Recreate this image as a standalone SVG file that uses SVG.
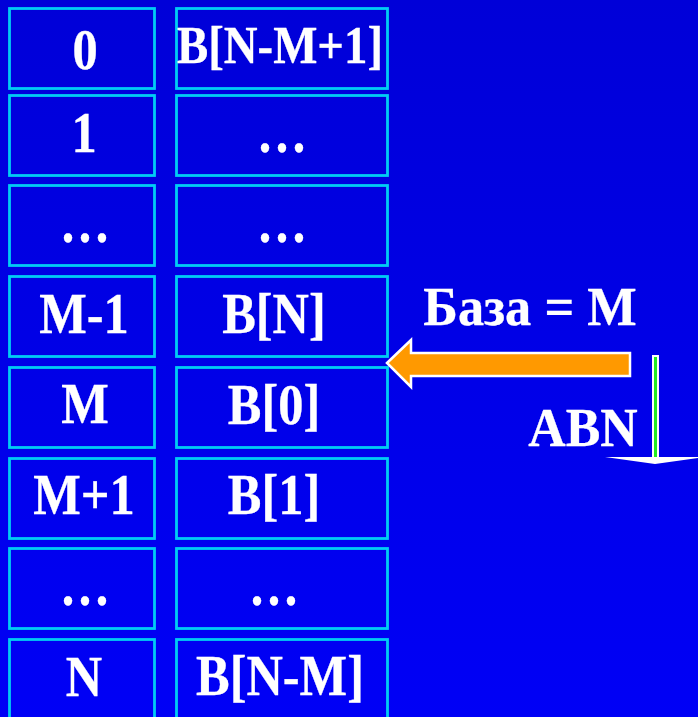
<svg xmlns="http://www.w3.org/2000/svg" width="698" height="717" viewBox="0 0 698 717">
  <defs>
    <linearGradient id="bg" x1="0" y1="0" x2="0" y2="1">
      <stop offset="0" stop-color="#0000D8"/>
      <stop offset="1" stop-color="#0000F6"/>
    </linearGradient>
    <style>
      .cell { fill: none; stroke: #00CCF4; stroke-width: 2.8; }
      .t { font-family: "Liberation Serif", "Times New Roman", serif; font-weight: bold; font-size: 56px; fill: #FFFFFF; stroke: #FFFFFF; stroke-width: 0.3; text-anchor: middle; }
      .l { font-family: "Liberation Serif", "Times New Roman", serif; font-weight: bold; font-size: 54px; fill: #FFFFFF; stroke: #FFFFFF; stroke-width: 0.3; text-anchor: middle; }
    </style>
  </defs>
  <rect x="0" y="0" width="698" height="717" fill="url(#bg)"/>

  <g id="idx0"><rect class="cell" x="9.5" y="8.5" width="145" height="80"/><text class="t" transform="translate(85,69) scale(0.9,1)">0</text></g>
  <g id="idx1"><rect class="cell" x="9.5" y="95.5" width="145" height="80"/><text class="t" transform="translate(84,152) scale(0.9,1)">1</text></g>
  <g id="idx2"><rect class="cell" x="9.5" y="185.5" width="145" height="80"/><text class="t" transform="translate(85,242) scale(0.9,1)">…</text></g>
  <g id="idx3"><rect class="cell" x="9.5" y="276.5" width="145" height="80"/><text class="t" transform="translate(84,333) scale(0.9,1)">M-1</text></g>
  <g id="idx4"><rect class="cell" x="9.5" y="367.5" width="145" height="80"/><text class="t" transform="translate(85,423) scale(0.9,1)">M</text></g>
  <g id="idx5"><rect class="cell" x="9.5" y="458.5" width="145" height="80"/><text class="t" transform="translate(84,514) scale(0.9,1)">M+1</text></g>
  <g id="idx6"><rect class="cell" x="9.5" y="548.5" width="145" height="80"/><text class="t" transform="translate(85,605) scale(0.9,1)">…</text></g>
  <g id="idx7"><rect class="cell" x="9.5" y="639.5" width="145" height="80"/><text class="t" transform="translate(84,696) scale(0.9,1)">N</text></g>

  <g id="val0"><rect class="cell" x="176.5" y="8.5" width="211" height="80"/><text class="t" x="280" y="63" style="font-size:52px" textLength="206" lengthAdjust="spacingAndGlyphs">B[N-M+1]</text></g>
  <g id="val1"><rect class="cell" x="176.5" y="95.5" width="211" height="80"/><text class="t" transform="translate(282,152) scale(0.9,1)">…</text></g>
  <g id="val2"><rect class="cell" x="176.5" y="185.5" width="211" height="80"/><text class="t" transform="translate(282,242) scale(0.9,1)">…</text></g>
  <g id="val3"><rect class="cell" x="176.5" y="276.5" width="211" height="80"/><text class="t" transform="translate(274,333) scale(0.9,1)">B[N]</text></g>
  <g id="val4"><rect class="cell" x="176.5" y="367.5" width="211" height="80"/><text class="t" transform="translate(274,424) scale(0.9,1)">B[0]</text></g>
  <g id="val5"><rect class="cell" x="176.5" y="458.5" width="211" height="80"/><text class="t" transform="translate(274,514) scale(0.9,1)">B[1]</text></g>
  <g id="val6"><rect class="cell" x="176.5" y="548.5" width="211" height="80"/><text class="t" transform="translate(274,605) scale(0.9,1)">…</text></g>
  <g id="val7"><rect class="cell" x="176.5" y="639.5" width="211" height="80"/><text class="t" transform="translate(280,695) scale(0.9,1)">B[N-M]</text></g>

  <g id="base-label"><text class="l" transform="translate(530,325) scale(0.97,1)">База = М</text></g>
  <g id="abn-label"><text class="l" transform="translate(583,446) scale(0.96,1)">ABN</text></g>

  <g id="connectors">
    <polygon points="387,363 411,340 411,353 630,353 630,376 411,376 411,387" fill="#FF9900" stroke="#FFFFFF" stroke-width="2.5" stroke-linejoin="miter"/>
    <rect x="653" y="356" width="5" height="104" fill="#22EE22" stroke="#FFFFFF" stroke-width="2"/>
    <polygon points="605,457 705,457 655,464" fill="#FFFFFF"/>
  </g>
</svg>
